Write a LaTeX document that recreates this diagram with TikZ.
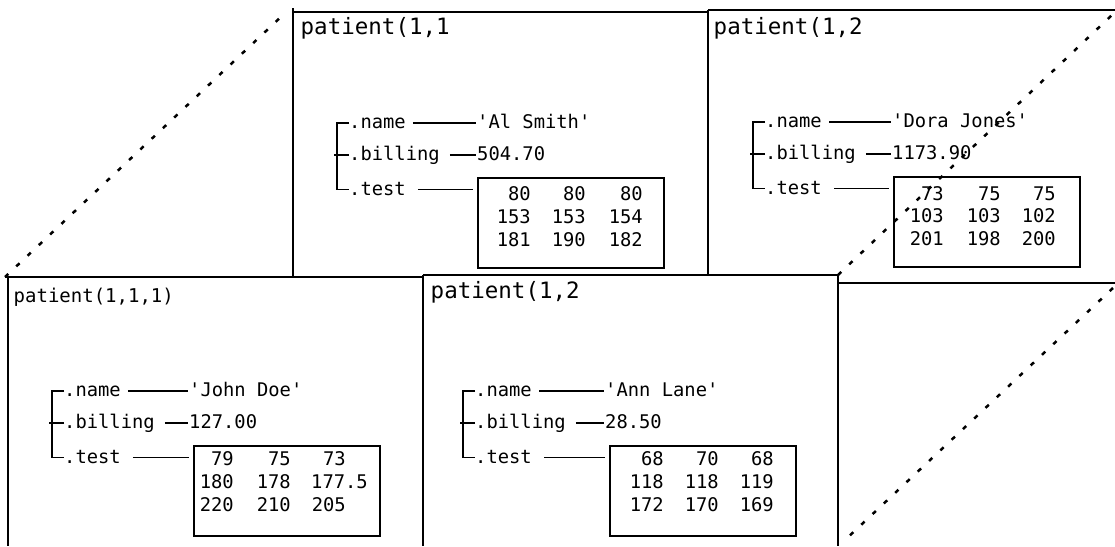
\documentclass[tikz,border=0pt]{standalone}
\usepackage{fontspec}
\newfontfamily\dvsm{DejaVu Sans Mono}
\newcommand\fldfont{\dvsm\fontsize{18.8}{22}\selectfont}
\newcommand\ttlfont{\dvsm\fontsize{22.5}{26}\selectfont}
\newcommand\ttlsmall{\dvsm\fontsize{19}{22}\selectfont}
\tikzset{
  fld/.style={font=\fldfont, inner sep=0pt, anchor=base west},
  num/.style={font=\fldfont, inner sep=0pt, anchor=base east},
  ttl/.style={font=\ttlfont, inner sep=0pt, anchor=base west},
  pane/.style={line width=1.8pt},
  lnk/.style={line width=1.2pt},
  brk/.style={line width=1.4pt},
  mbox/.style={draw, line width=1.6pt, inner sep=0pt, minimum width=186pt, minimum height=90pt, anchor=north west},
  dots/.style={line width=2.5pt, dash pattern=on 4.5pt off 11pt},
}
% #1 prefix, #2 bracket x, #3 top tick y, #4 value x, #5 box x, #6 name, #7 billing
\newcommand\rec[7]{%
  \coordinate (#1nc) at (#2+12,#3);
  \coordinate (#1bc) at (#2+12,#3+32);
  \coordinate (#1tc) at (#2+12,#3+66.5);
  \node[fld] (#1n) at ([yshift=-5.5pt]#1nc) {.name};
  \node[fld] (#1b) at ([yshift=-5.5pt]#1bc) {.billing};
  \node[fld] (#1t) at ([yshift=-5.5pt]#1tc) {.test};
  \node[fld] (#1nv) at ([yshift=-5.5pt]#4,#3) {#6};
  \node[fld] (#1bv) at ([yshift=-5.5pt]#4,#3+32) {#7};
  \node[mbox] (#1m) at (#5,#3+54) {};
  \draw[brk] (#1nc) -- ++(-12,0) -- ++(0,66.5) -- (#1tc);
  \draw[brk] (#1bc) -- ++(-15,0);
  \draw[lnk] ([xshift=7pt]#1n.east |- #1nc) -- ([xshift=-1pt]#1nv.west |- #1nc);
  \draw[lnk] ([xshift=10pt]#1b.east |- #1bc) -- ([xshift=-1pt]#1bv.west |- #1bc);
  \draw[lnk] ([xshift=12pt]#1t.east |- #1tc) -- ([xshift=-4pt]#1m.west |- #1tc);
}
\begin{document}
\begin{tikzpicture}[x=1pt,y=-1pt]
\useasboundingbox (0,0) rectangle (1115,546);
% panel outlines
\draw[pane] (293,8) -- (293,277);
\draw[pane] (293,12) -- (708,12);
\draw[pane] (708,10) -- (1115,10);
\draw[pane] (708,10) -- (708,275);
\draw[pane] (5,277) -- (423,277);
\draw[pane] (8,277) -- (8,546);
\draw[pane] (423,275) -- (423,546);
\draw[pane] (423,275) -- (838,275);
\draw[pane] (838,275) -- (838,546);
\draw[pane] (838,283) -- (1115,283);
% titles
\node[ttl] (Ptl) at (300.5,34) {patient(1,1};
\node[ttl] (Qtl) at (713.5,34) {patient(1,2};
\node[ttl, font=\ttlsmall] (Rtl) at (13.5,302) {patient(1,1,1)};
\node[ttl] (Stl) at (430.5,298) {patient(1,2};
% records
\rec{P}{337}{123}{477}{477}{'Al Smith'}{504.70}
\rec{Q}{753}{122}{892}{893}{'Dora Jones'}{1173.90}
\rec{R}{52}{391}{189}{193}{'John Doe'}{127.00}
\rec{S}{463}{391}{605}{609}{'Ann Lane'}{28.50}
% matrices
\foreach \t/\px/\py [count=\i] in {80/531/200,80/586/200,80/643/200,153/531/223,153/586/223,154/643/223,181/531/246,190/586/246,182/643/246}
  \node[num] (Px\i) at (\px,\py) {\t};
\foreach \t/\px/\py [count=\i] in {73/944/200,75/1001/200,75/1056/200,103/944/222,103/1001/222,102/1056/222,201/944/245,198/1001/245,200/1056/245}
  \node[num] (Qx\i) at (\px,\py) {\t};
\foreach \t/\px/\py [count=\i] in {79/234/465,75/291/465,73/346/465,180/234/488,178/291/488,177.5/368/488,220/234/511,210/291/511,205/346/511}
  \node[num] (Rx\i) at (\px,\py) {\t};
\foreach \t/\px/\py [count=\i] in {68/664/465,70/719/465,68/774/465,118/664/488,118/719/488,119/774/488,172/664/511,170/719/511,169/774/511}
  \node[num] (Sx\i) at (\px,\py) {\t};
% dotted depth lines
\draw[dots] (5,277) -- (283,15);
\draw[dots] (838,275) -- (1113,14);
\draw[dots] (1113,288) -- (845,540);
\end{tikzpicture}
\end{document}
